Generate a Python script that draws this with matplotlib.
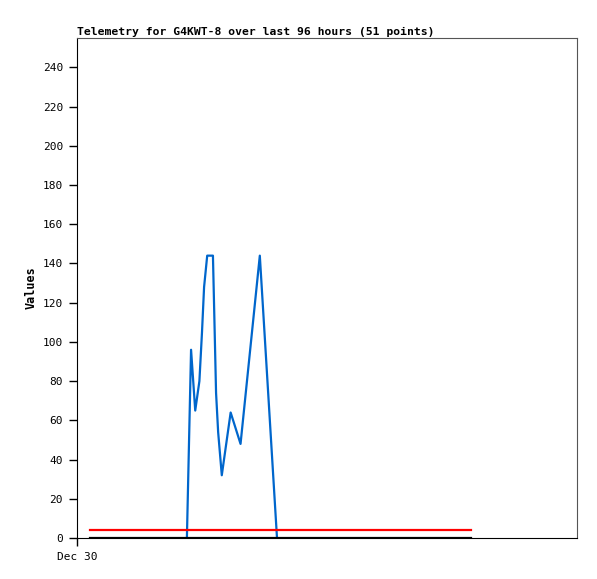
import matplotlib
matplotlib.use("Agg")
import matplotlib.pyplot as plt

# hours since Dec 30 00:00
blue_x = [21.1, 21.9, 22.7, 23.5, 24.0, 24.4, 25.0, 26.1, 26.35, 26.7, 27.1, 27.8,
          29.5, 31.4, 35.1, 38.4]
blue_y = [0, 96, 65, 80, 105, 128, 144, 144, 115, 74, 54, 32,
          64, 48, 144, 0]
ref_x = [2.5, 75.6]
red_y = [4, 4]
black_y = [0, 0]
y_ticks = list(range(0, 241, 20))
x_tick_pos = [0]
x_tick_labels = ["Dec 30"]

mono = "DejaVu Sans Mono"
fig = plt.figure(figsize=(5.97, 5.79), dpi=100)
ax = fig.add_axes([77/597, 41/579, 500/597, 500/579])
ax.plot(blue_x, blue_y, color="#0066cc", lw=1.6)
ax.plot(ref_x, red_y, color="#ff0000", lw=1.6)
ax.plot(ref_x, black_y, color="#000000", lw=1.6)
ax.set_xlim(0, 96)
ax.set_ylim(0, 255)
ax.set_yticks(y_ticks)
ax.set_yticklabels([str(v) for v in y_ticks], family=mono, fontsize=8)
ax.set_xticks(x_tick_pos)
ax.set_xticklabels(x_tick_labels, family=mono, fontsize=8)
ax.tick_params(direction="out", length=6, width=1, color="black", pad=4)
ax.set_ylabel("Values", family=mono, fontsize=8.5, fontweight="bold")
ax.set_title("Telemetry for G4KWT-8 over last 96 hours (51 points)", family=mono,
             fontsize=8.2, fontweight="bold", loc="left", pad=2)
for s in ["left", "bottom"]:
    ax.spines[s].set_color("black")
for s in ["top", "right"]:
    ax.spines[s].set_color("#555555")
fig.savefig("out.png", dpi=100)
